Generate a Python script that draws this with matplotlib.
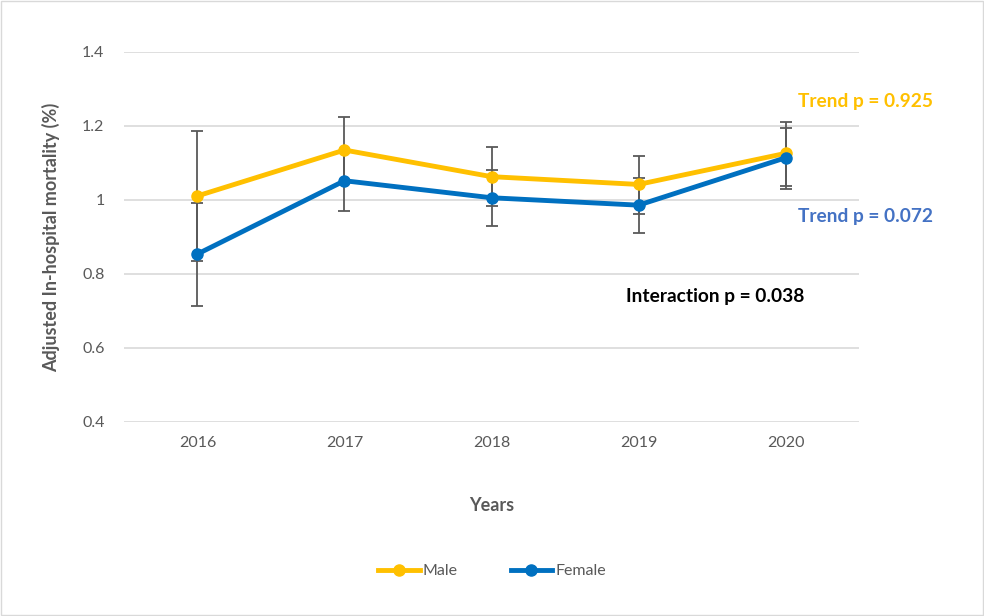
import numpy as np
import matplotlib.pyplot as plt
from matplotlib.patches import Rectangle

plt.rcParams['font.family'] = ['Lato', 'DejaVu Sans']

# data
years = ['2016', '2017', '2018', '2019', '2020']
male = [1.011, 1.135, 1.063, 1.042, 1.126]
male_lo = [0.835, 1.045, 0.983, 0.962, 1.038]
male_hi = [1.186, 1.225, 1.144, 1.119, 1.210]
female = [0.854, 1.052, 1.006, 0.986, 1.114]
female_lo = [0.714, 0.971, 0.931, 0.912, 1.030]
female_hi = [0.993, 1.130, 1.081, 1.059, 1.194]

gold = '#FFC000'
blue = '#0070C0'
grey = '#595959'

fig = plt.figure(figsize=(9.84, 6.16), dpi=100)
ax = fig.add_axes([0.126, 0.315, 0.747, 0.6006])
x = np.arange(len(years))

# error bars first so the markers sit on top
for m, lo, hi in [(male, male_lo, male_hi), (female, female_lo, female_hi)]:
    m = np.array(m)
    err = [m - np.array(lo), np.array(hi) - m]
    ax.errorbar(x, m, yerr=err, fmt='none', ecolor=grey, elinewidth=1.3,
                capsize=4, capthick=1.3, zorder=2)

ax.plot(x, male, color=gold, lw=3.5, marker='o', ms=8, label='Male', zorder=3)
ax.plot(x, female, color=blue, lw=3.5, marker='o', ms=8, label='Female', zorder=4)

ax.set_xlim(-0.5, 4.5)
ax.set_ylim(0.4, 1.4)
ax.set_yticks([0.4, 0.6, 0.8, 1.0, 1.2, 1.4])
ax.set_yticklabels(['0.4', '0.6', '0.8', '1', '1.2', '1.4'])
ax.set_xticks(x)
ax.set_xticklabels(years)
ax.tick_params(length=0, labelsize=11.5, labelcolor=grey, pad=10)
ax.tick_params(axis='y', pad=14)
ax.grid(axis='y', color='#D9D9D9', lw=1.2)
ax.set_axisbelow(True)
for s in ax.spines.values():
    s.set_visible(False)

ax.set_ylabel('Adjusted In-hospital mortality (%)', fontsize=13, fontweight='bold',
              color=grey, labelpad=16)
ax.set_xlabel('Years', fontsize=13, fontweight='bold', color=grey, labelpad=34)

fig.text(0.811, 0.836, 'Trend p = 0.925', color=gold, fontsize=13.8, fontweight='bold',
         va='center')
fig.text(0.811, 0.649, 'Trend p = 0.072', color='#4472C4', fontsize=13.8,
         fontweight='bold', va='center')
fig.text(0.636, 0.519, 'Interaction p = 0.038', color='black', fontsize=13.8,
         fontweight='bold', va='center')

leg = fig.legend(loc='center', bbox_to_anchor=(0.5, 0.073), ncol=2, frameon=False,
                 fontsize=11.5, handlelength=2.6, columnspacing=3.3, handletextpad=0.2)
for t in leg.get_texts():
    t.set_color(grey)

fig.patches.append(Rectangle((0.001, 0.001), 0.998, 0.998, transform=fig.transFigure,
                             fill=False, edgecolor='#D9D9D9', lw=1))

fig.savefig('out.png', dpi=100)
